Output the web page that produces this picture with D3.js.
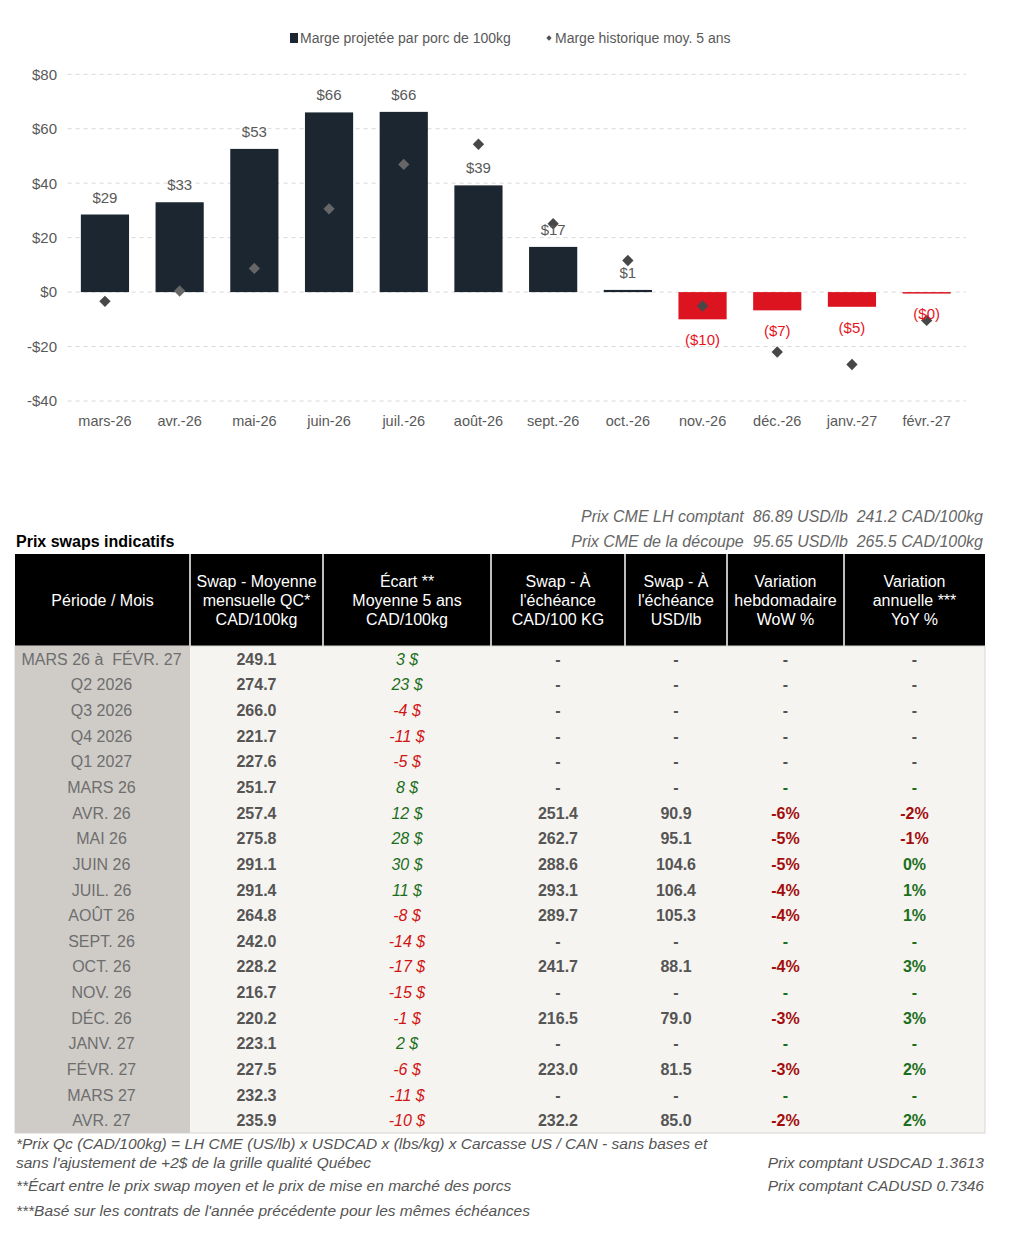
<!DOCTYPE html>
<html>
<head>
<meta charset="utf-8">
<script src="https://cdn.jsdelivr.net/npm/d3@7"></script>
<style>
  body { margin: 0; background: #fff; }
  svg text { font-family: "Liberation Sans", Arial, sans-serif; white-space: pre; }
  .narrow { font-family: "Liberation Sans Narrow", "Arial Narrow", "Liberation Sans", sans-serif !important; }
</style>
</head>
<body>
<svg id="page" width="1024" height="1233"></svg>
<script>
// ---- chart data ----
const months = ["mars-26", "avr.-26", "mai-26", "juin-26", "juil.-26", "août-26",
                "sept.-26", "oct.-26", "nov.-26", "déc.-26", "janv.-27", "févr.-27"];
const projectedMargin = [28.5, 33, 52.6, 66, 66.2, 39.2, 16.6, 0.8, -10, -6.7, -5.4, -0.4];
const historicMargin = [-3.4, 0.4, 8.7, 30.6, 46.9, 54.3, 25.1, 11.6, -5.1, -22, -26.6, -10.4];
const yTicks = [-40, -20, 0, 20, 40, 60, 80];

// ---- table data ----
const periods = ["MARS 26 à  FÉVR. 27", "Q2 2026", "Q3 2026", "Q4 2026", "Q1 2027",
                 "MARS 26", "AVR. 26", "MAI 26", "JUIN 26", "JUIL. 26", "AOÛT 26", "SEPT. 26",
                 "OCT. 26", "NOV. 26", "DÉC. 26", "JANV. 27", "FÉVR. 27", "MARS 27", "AVR. 27"];
const swapAvg = [249.1, 274.7, 266.0, 221.7, 227.6, 251.7, 257.4, 275.8, 291.1, 291.4,
                 264.8, 242.0, 228.2, 216.7, 220.2, 223.1, 227.5, 232.3, 235.9];
const ecart = [3, 23, -4, -11, -5, 8, 12, 28, 30, 11, -8, -14, -17, -15, -1, 2, -6, -11, -10];
const swapCad = [null, null, null, null, null, null, 251.4, 262.7, 288.6, 293.1, 289.7, null,
                 241.7, null, 216.5, null, 223.0, null, 232.2];
const swapUsd = [null, null, null, null, null, null, 90.9, 95.1, 104.6, 106.4, 105.3, null,
                 88.1, null, 79.0, null, 81.5, null, 85.0];
const wow = [null, null, null, null, null, null, -6, -5, -5, -4, -4, null, -4, null, -3, null, -3, null, -2];
const yoy = [null, null, null, null, null, null, -2, -1, 0, 1, 1, null, 3, null, 3, null, 2, null, 2];
const aggregateRows = 5;

const headers = [
  ["Période / Mois"],
  ["Swap - Moyenne", "mensuelle QC*", "CAD/100kg"],
  ["Écart **", "Moyenne 5 ans", "CAD/100kg"],
  ["Swap - À", "l'échéance", "CAD/100 KG"],
  ["Swap - À", "l'échéance", "USD/lb"],
  ["Variation", "hebdomadaire", "WoW %"],
  ["Variation", "annuelle ***", "YoY %"]
];

const svg = d3.select("#page");
const grey = "#595959";

// ================= BAR CHART =================
const x = d3.scaleBand().domain(months).range([67.6, 964]).paddingInner(0.355).paddingOuter(0.1775);
const y = d3.scaleLinear().domain([-40, 80]).range([401, 74.3]);

// grid
svg.append("g").selectAll("line").data(yTicks).enter().append("line")
  .attr("x1", 67.6).attr("x2", 966)
  .attr("y1", d => y(d)).attr("y2", d => y(d))
  .attr("stroke", "#d9d9d9").attr("stroke-dasharray", "4,4");

// y axis labels
const yAxis = svg.append("g").attr("transform", "translate(57,0)")
  .call(d3.axisLeft(y).tickValues(yTicks).tickSize(0).tickPadding(0)
    .tickFormat(d => (d < 0 ? "-$" : "$") + Math.abs(d)));
yAxis.select(".domain").remove();
yAxis.selectAll("text").attr("class", "narrow").attr("fill", grey).style("font-size", "15px");

// x axis labels
const xAxis = svg.append("g").attr("transform", "translate(0,416)")
  .call(d3.axisBottom(x).tickSize(0).tickPadding(0));
xAxis.select(".domain").remove();
xAxis.selectAll("text").attr("class", "narrow").attr("fill", grey).style("font-size", "14.5px");

// bars
const barData = months.map((m, i) => ({ m, v: projectedMargin[i], h: historicMargin[i] }));
svg.append("g").selectAll("rect").data(barData).enter().append("rect")
  .attr("x", d => x(d.m))
  .attr("width", x.bandwidth())
  .attr("y", d => y(Math.max(0, d.v)))
  .attr("height", d => Math.max(1.5, Math.abs(y(d.v) - y(0))))
  .attr("fill", d => d.v >= 0 ? "#1b2631" : "#dc1420");

// historic diamonds (rotated squares)
const diamond = d3.symbol().type(d3.symbolSquare).size(64);
svg.append("g").selectAll("path").data(barData).enter().append("path")
  .attr("d", diamond)
  .attr("transform", d => `translate(${x(d.m) + x.bandwidth() / 2},${y(d.h)}) rotate(45)`)
  .attr("fill", d => (d.v > 5 && d.h < d.v && d.h > 0) ? "#666" : "#474747");

// value labels
svg.append("g").selectAll("text").data(barData).enter().append("text")
  .attr("class", "narrow")
  .attr("x", d => x(d.m) + x.bandwidth() / 2)
  .attr("y", d => d.v >= 0 ? y(d.v) - 12 : y(d.v) + 26)
  .attr("text-anchor", "middle")
  .attr("fill", d => d.v >= 0 ? grey : "#e8141c")
  .style("font-size", "15px")
  .text(d => d.v >= 0 ? "$" + Math.round(d.v) : "($" + Math.round(-d.v) + ")");

// legend
svg.append("rect").attr("x", 290).attr("y", 33).attr("width", 8).attr("height", 10).attr("fill", "#1b2631");
svg.append("text").attr("class", "narrow").attr("x", 300).attr("y", 43)
  .attr("fill", grey).style("font-size", "14px").text("Marge projetée par porc de 100kg");
svg.append("path").attr("d", d3.symbol().type(d3.symbolSquare).size(14))
  .attr("transform", "translate(549,38) rotate(45)").attr("fill", "#505050");
svg.append("text").attr("class", "narrow").attr("x", 555).attr("y", 43)
  .attr("fill", grey).style("font-size", "14px").text("Marge historique moy. 5 ans");

// ================= TABLE =================
svg.append("text").attr("x", 16).attr("y", 547).attr("font-weight", "bold")
  .style("font-size", "16px").attr("fill", "#000").text("Prix swaps indicatifs");

const topNotes = [
  "Prix CME LH comptant  86.89 USD/lb  241.2 CAD/100kg",
  "Prix CME de la découpe  95.65 USD/lb  265.5 CAD/100kg"
];
svg.append("g").selectAll("text").data(topNotes).enter().append("text")
  .attr("class", "narrow")
  .attr("x", 983).attr("y", (d, i) => 522 + i * 25)
  .attr("text-anchor", "end").attr("font-style", "italic")
  .attr("fill", "#666").style("font-size", "16px")
  .text(d => d);

const colEdges = [15, 190, 323, 491, 625, 727, 844, 985];
const colMid = i => (colEdges[i] + colEdges[i + 1]) / 2;
const headTop = 554, headBottom = 646;
const row = d3.scaleBand().domain(d3.range(periods.length)).range([646, 1133]);

// header
svg.append("rect").attr("x", colEdges[0]).attr("y", headTop)
  .attr("width", colEdges[7] - colEdges[0]).attr("height", headBottom - headTop).attr("fill", "#000");
svg.append("g").selectAll("line").data(colEdges.slice(1, 7)).enter().append("line")
  .attr("x1", d => d).attr("x2", d => d).attr("y1", headTop).attr("y2", headBottom)
  .attr("stroke", "#fff").attr("stroke-width", 1.5);
headers.forEach((lines, i) => {
  const t = svg.append("text").attr("x", colMid(i)).attr("text-anchor", "middle")
    .attr("fill", "#fff").style("font-size", "16px");
  const y0 = (headTop + headBottom) / 2 - (lines.length - 1) * 9.5 + 5.5;
  lines.forEach((l, j) => t.append("tspan").attr("x", colMid(i)).attr("y", y0 + j * 19).text(l));
});

// body backgrounds
svg.append("rect").attr("x", colEdges[0]).attr("y", headBottom)
  .attr("width", colEdges[7] - colEdges[0]).attr("height", 1133 - headBottom)
  .attr("fill", "#f6f4f0").attr("stroke", "#d8d6d2");
svg.append("rect").attr("x", colEdges[0]).attr("y", headBottom)
  .attr("width", colEdges[1] - colEdges[0]).attr("height", 1133 - headBottom)
  .attr("fill", "#cfccc8");

const green = "#1c6e1c", darkRed = "#a30d0d", brightRed = "#d01414", cellGrey = "#555";
const pct = v => v + "%";
const rows = periods.map((p, i) => ({ i, p }));
const body = svg.append("g").selectAll("g").data(rows).enter().append("g")
  .attr("transform", d => `translate(0,${row(d.i) + row.bandwidth() / 2 + 6})`);

body.append("text").attr("x", colMid(0) - 1).attr("text-anchor", "middle")
  .attr("fill", "#6e6e6e").style("font-size", "16px").text(d => d.p);

body.append("text").attr("x", colMid(1)).attr("text-anchor", "middle")
  .attr("font-weight", "bold").attr("fill", cellGrey).style("font-size", "16px")
  .text(d => swapAvg[d.i].toFixed(1));

body.append("text").attr("x", colMid(2)).attr("text-anchor", "middle")
  .attr("font-style", "italic").attr("fill", d => ecart[d.i] >= 0 ? green : brightRed)
  .style("font-size", "16px").text(d => ecart[d.i] + " $");

[[swapCad, 3], [swapUsd, 4]].forEach(([arr, c]) => {
  body.append("text").attr("x", colMid(c)).attr("text-anchor", "middle")
    .attr("font-weight", "bold").attr("fill", cellGrey).style("font-size", "16px")
    .text(d => arr[d.i] == null ? "-" : arr[d.i].toFixed(1));
});

[[wow, 5], [yoy, 6]].forEach(([arr, c]) => {
  body.append("text").attr("x", colMid(c)).attr("text-anchor", "middle")
    .attr("font-weight", "bold").style("font-size", "16px")
    .attr("fill", d => {
      const v = arr[d.i];
      if (v == null) return d.i < aggregateRows ? cellGrey : green;
      return v < 0 ? darkRed : green;
    })
    .text(d => arr[d.i] == null ? "-" : pct(arr[d.i]));
});

// footnotes
const notesLeft = [
  ["*Prix Qc (CAD/100kg) = LH CME (US/lb) x USDCAD x (lbs/kg) x Carcasse US / CAN - sans bases et", 1149],
  ["sans l'ajustement de +2$ de la grille qualité Québec", 1168],
  ["**Écart entre le prix swap moyen et le prix de mise en marché des porcs", 1191],
  ["***Basé sur les contrats de l'année précédente pour les mêmes échéances", 1216]
];
svg.append("g").selectAll("text").data(notesLeft).enter().append("text")
  .attr("class", "narrow").attr("x", 16).attr("y", d => d[1])
  .attr("font-style", "italic").attr("fill", "#555").style("font-size", "15.5px")
  .text(d => d[0]);

const notesRight = [["Prix comptant USDCAD 1.3613", 1168], ["Prix comptant CADUSD 0.7346", 1191]];
svg.append("g").selectAll("text").data(notesRight).enter().append("text")
  .attr("class", "narrow").attr("x", 984).attr("y", d => d[1]).attr("text-anchor", "end")
  .attr("font-style", "italic").attr("fill", "#555").style("font-size", "15.5px")
  .text(d => d[0]);
</script>
</body>
</html>
